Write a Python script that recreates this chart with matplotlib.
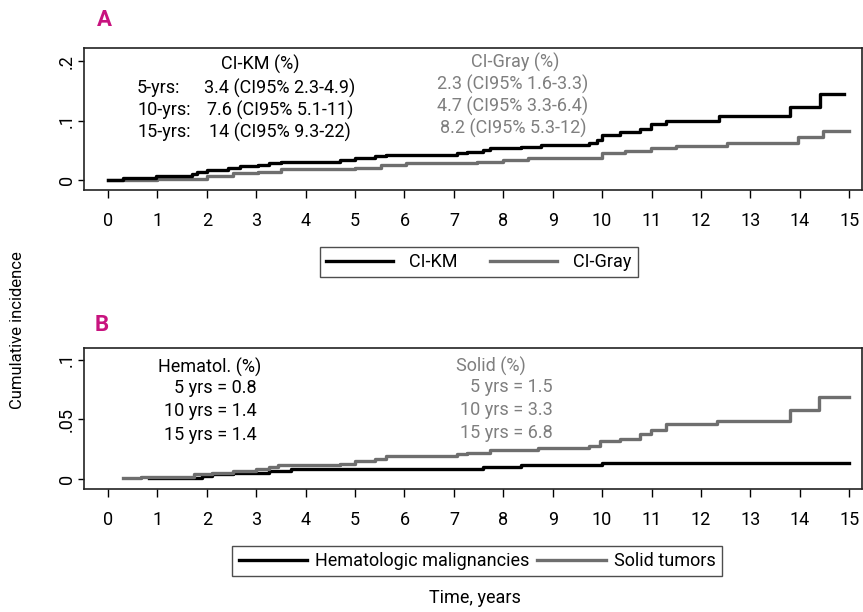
import matplotlib
matplotlib.use('Agg')
import matplotlib.pyplot as plt
from matplotlib.lines import Line2D

plt.rcParams['font.family'] = ['Liberation Sans Narrow', 'Roboto', 'DejaVu Sans']

# panel A: cumulative incidence, KM vs Gray
km_t = [0, 0.31, 0.98, 1.70, 1.80, 2.01, 2.42, 2.68, 3.04, 3.25, 3.51, 4.69, 5.0, 5.41, 5.62,
        7.06, 7.27, 7.58, 7.73, 8.35, 8.76, 9.74, 9.90, 10.0, 10.36, 10.77, 10.98, 11.29,
        12.37, 13.81, 14.41, 14.9]
km_y = [0, 0.003, 0.006, 0.010, 0.014, 0.017, 0.021, 0.023, 0.025, 0.028, 0.031, 0.033, 0.037,
        0.040, 0.042, 0.045, 0.047, 0.050, 0.053, 0.056, 0.059, 0.062, 0.068, 0.076, 0.081,
        0.086, 0.094, 0.100, 0.107, 0.123, 0.144, 0.144]
gray_t = [0, 1.0, 2.01, 2.53, 3.04, 3.51, 5.0, 5.52, 6.03, 7.47, 7.99, 8.51, 10.0, 10.46, 10.98,
          11.49, 12.53, 13.97, 14.48, 15.0]
gray_y = [0, 0.002, 0.007, 0.011, 0.014, 0.018, 0.021, 0.025, 0.028, 0.031, 0.034, 0.037, 0.045,
          0.049, 0.054, 0.058, 0.062, 0.073, 0.082, 0.082]

# panel B: hematologic vs solid
hem_t = [0.82, 1.91, 2.11, 2.53, 3.25, 3.71, 7.58, 8.35, 10.0, 15.0]
hem_y = [0.001, 0.0025, 0.004, 0.0054, 0.0068, 0.0082, 0.0099, 0.0116, 0.0138, 0.0138]
sol_t = [0.31, 0.67, 1.75, 2.11, 2.53, 2.99, 3.25, 3.45, 4.69, 5.0, 5.41, 5.62, 7.06, 7.27, 7.73,
         8.71, 9.74, 9.95, 10.36, 10.77, 10.98, 11.29, 12.32, 13.81, 14.38, 15.0]
sol_y = [0.001, 0.002, 0.004, 0.0054, 0.007, 0.008, 0.0099, 0.012, 0.013, 0.015, 0.017, 0.019,
         0.021, 0.022, 0.024, 0.026, 0.028, 0.032, 0.034, 0.038, 0.0415, 0.046, 0.049, 0.058,
         0.069, 0.069]

xticks = list(range(0, 16))
ticks_a = [0, 0.1, 0.2]
ticklab_a = ['0', '.1', '.2']
ticks_b = [0, 0.05, 0.1]
ticklab_b = ['0', '.05', '.1']

km_head = 'CI-KM (%)'
km_rows = ['5-yrs:', '10-yrs:', '15-yrs:']
km_vals = ['3.4 (CI95% 2.3-4.9)', '7.6 (CI95% 5.1-11)', '14 (CI95% 9.3-22)']
gray_head = 'CI-Gray (%)'
gray_vals = ['2.3 (CI95% 1.6-3.3)', '4.7 (CI95% 3.3-6.4)', '8.2 (CI95% 5.3-12)']
hem_head = 'Hematol. (%)'
hem_vals = ['5 yrs = 0.8', '10 yrs = 1.4', '15 yrs = 1.4']
sol_head = 'Solid (%)'
sol_vals = ['5 yrs = 1.5', '10 yrs = 3.3', '15 yrs = 6.8']

W, H = 863, 612
BLACK = '#000000'
GRAY = '#6e6e6e'
TGRAY = '#7f7f7f'
MAG = '#c8137f'
FS = 13


def px(x, y):
    return x / W, 1 - y / H


fig = plt.figure(figsize=(W / 100, H / 100), dpi=100)
ax_a = fig.add_axes([84 / W, 1 - 190 / H, 778 / W, 142 / H])
ax_b = fig.add_axes([84 / W, 1 - 489 / H, 778 / W, 141 / H])

ax_a.step(km_t, km_y, where='post', color=BLACK, lw=2.4, zorder=3)
ax_a.step(gray_t, gray_y, where='post', color=GRAY, lw=2.4, zorder=2)
ax_b.step(hem_t, hem_y, where='post', color=BLACK, lw=2.4, zorder=2)
ax_b.step(sol_t, sol_y, where='post', color=GRAY, lw=2.4, zorder=3)

for ax, yt, yl, ylim in [(ax_a, ticks_a, ticklab_a, (-0.0168, 0.222)),
                         (ax_b, ticks_b, ticklab_b, (-0.0084, 0.110))]:
    ax.set_xlim(-0.486, 15.26)
    ax.set_ylim(*ylim)
    ax.set_xticks(xticks)
    ax.set_xticklabels([str(t) for t in xticks], fontsize=FS)
    ax.set_yticks(yt)
    ax.set_yticklabels(yl, fontsize=FS, rotation=90, va='center')
    ax.tick_params(axis='x', length=6, width=1, pad=10)
    ax.tick_params(axis='y', length=4, width=1, pad=2)
    for s in ax.spines.values():
        s.set_linewidth(1.2)
        s.set_color('#222222')

# panel letters
fig.text(*px(97, 20), 'A', color=MAG, fontsize=16, fontweight='bold', va='center')
fig.text(*px(95, 325), 'B', color=MAG, fontsize=16, fontweight='bold', va='center')

# panel A annotations
fig.text(*px(260, 64), km_head, fontsize=FS, ha='center', va='center')
for i, (r, v) in enumerate(zip(km_rows, km_vals)):
    y = 88 + 22 * i
    fig.text(*px(137, y), r, fontsize=FS, ha='left', va='center')
    fig.text(*px(280, y), v, fontsize=FS, ha='center', va='center')
fig.text(*px(515, 62), gray_head, fontsize=FS, ha='center', va='center', color=TGRAY)
for i, v in enumerate(gray_vals):
    fig.text(*px(513, 84 + 22 * i), v, fontsize=FS, ha='center', va='center', color=TGRAY)

# panel B annotations
fig.text(*px(210, 367), hem_head, fontsize=FS, ha='center', va='center')
for i, v in enumerate(hem_vals):
    fig.text(*px(257, 388 + 23.5 * i), v, fontsize=FS, ha='right', va='center')
fig.text(*px(491, 366), sol_head, fontsize=FS, ha='center', va='center', color=TGRAY)
for i, v in enumerate(sol_vals):
    fig.text(*px(553, 387 + 23 * i), v, fontsize=FS, ha='right', va='center', color=TGRAY)

# legends
h1 = [Line2D([], [], color=BLACK, lw=2.4), Line2D([], [], color=GRAY, lw=2.4)]
leg_a = fig.legend(h1, ['CI-KM', 'CI-Gray'], loc='center', bbox_to_anchor=px(479, 262),
                   ncol=2, fontsize=FS, frameon=True, fancybox=False, edgecolor='#222222',
                   handlelength=3.7, columnspacing=1.8, borderpad=0.35, handletextpad=0.9,
                   borderaxespad=0)
leg_a.get_frame().set_linewidth(1.0)
leg_b = fig.legend(h1, ['Hematologic malignancies', 'Solid tumors'], loc='center',
                   bbox_to_anchor=px(477, 561), ncol=2, fontsize=FS, frameon=True,
                   fancybox=False, edgecolor='#222222', handlelength=3.8, columnspacing=0.4,
                   borderpad=0.35, handletextpad=0.45, borderaxespad=0)
leg_b.get_frame().set_linewidth(1.0)

fig.text(*px(475, 598), 'Time, years', fontsize=FS, ha='center', va='center')
fig.text(*px(18, 330), 'Cumulative incidence', fontsize=FS - 1, ha='center', va='center',
         rotation=90)

fig.savefig('out.png', dpi=100)
